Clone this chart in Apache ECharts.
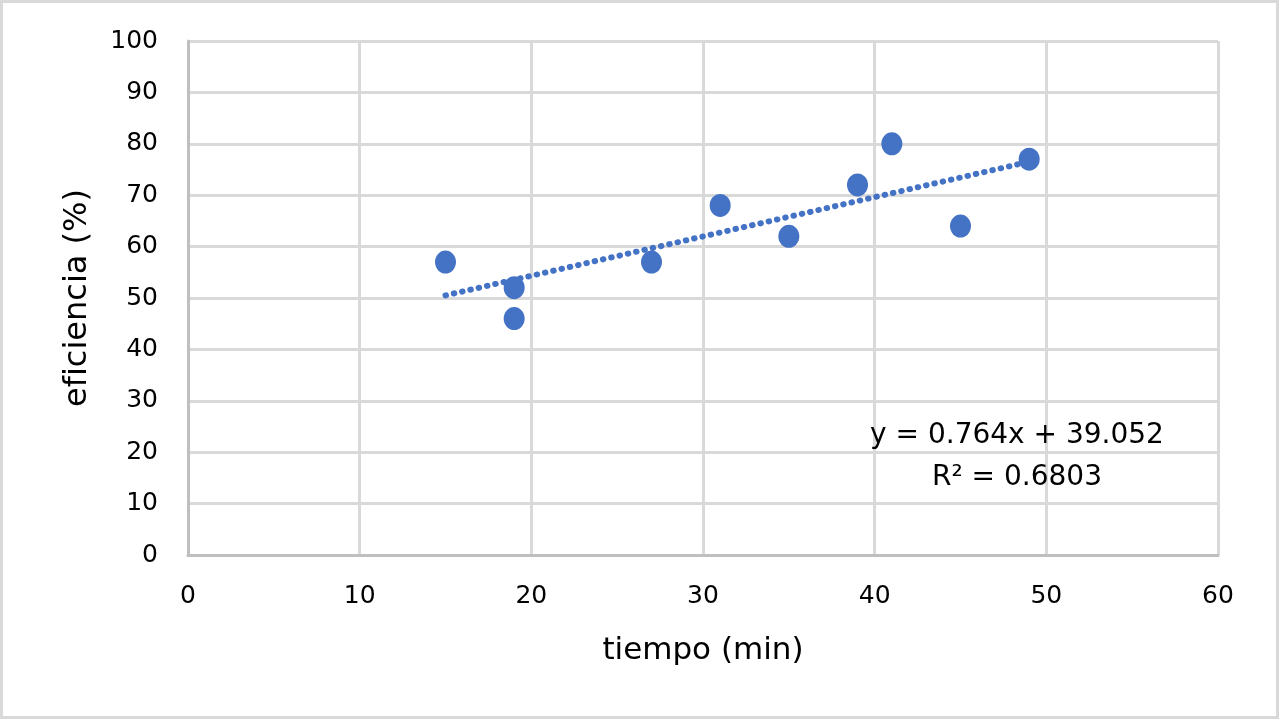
<!DOCTYPE html>
<html lang="es">
<head>
    <meta charset="UTF-8">
    <title>eficiencia vs tiempo</title>
    <script type="text/javascript" src="https://cdn.jsdelivr.net/npm/echarts@6/dist/echarts.min.js"></script>
    <style>
        html, body { margin: 0; padding: 0; background: #fff; }
        #main { width: 1280px; height: 720px; }
    </style>
</head>
<body>
<div id="main"></div>
<script type="text/javascript">
    // datos
    var tiempo = [15, 19, 19, 27, 31, 35, 39, 41, 45, 49];
    var eficiencia = [57, 52, 46, 57, 68, 62, 72, 80, 64, 77];
    // extremos de la linea de tendencia (leidos)
    var tendencia = [[15, 50.5], [49, 76.5]];
    var ecuacion = 'y = 0.764x + 39.052';
    var r2 = 'R² = 0.6803';

    var puntos = [];
    for (var i = 0; i < tiempo.length; i++) {
        puntos.push([tiempo[i], eficiencia[i]]);
    }

    var fuente = 'DejaVu Sans, Verdana, sans-serif';
    var azul = '#4472C4';

    var myChart = echarts.init(document.getElementById('main'));
    myChart.setOption({
        animation: false,
        grid: {left: 188, right: 62, top: 41, bottom: 165},
        xAxis: {
            type: 'value',
            min: 0, max: 60, interval: 10,
            name: 'tiempo (min)',
            nameLocation: 'middle',
            nameGap: 80,
            nameTextStyle: {fontFamily: fuente, fontSize: 31, color: '#000'},
            axisLine: {lineStyle: {color: '#bfbfbf', width: 3}},
            axisTick: {show: false},
            axisLabel: {fontFamily: fuente, fontSize: 25, color: '#000', margin: 29},
            splitLine: {lineStyle: {color: '#d9d9d9', width: 3}}
        },
        yAxis: {
            type: 'value',
            min: 0, max: 100, interval: 10,
            name: 'eficiencia (%)',
            nameLocation: 'middle',
            nameGap: 94,
            nameTextStyle: {fontFamily: fuente, fontSize: 32, color: '#000'},
            axisLine: {show: true, lineStyle: {color: '#bfbfbf', width: 3}},
            axisTick: {show: false},
            axisLabel: {fontFamily: fuente, fontSize: 25, color: '#000', margin: 30},
            splitLine: {lineStyle: {color: '#d9d9d9', width: 3}}
        },
        series: [{
            name: 'tendencia',
            type: 'line',
            data: tendencia,
            symbol: 'none',
            lineStyle: {color: azul, width: 6, type: [0.5, 8], cap: 'round'},
            z: 2
        }, {
            name: 'eficiencia',
            type: 'scatter',
            data: puntos,
            symbolSize: [21, 23],
            itemStyle: {color: azul, opacity: 1},
            z: 3
        }],
        graphic: [{
            type: 'rect',
            shape: {x: 1.5, y: 1.5, width: 1276, height: 716},
            style: {fill: 'none', stroke: '#d9d9d9', lineWidth: 3},
            silent: true
        }, {
            type: 'text',
            x: 1017, y: 436,
            style: {text: ecuacion, fontFamily: fuente, fontSize: 28, fill: '#000', align: 'center', verticalAlign: 'middle'},
            z: 10
        }, {
            type: 'text',
            x: 1017, y: 478,
            style: {text: r2, fontFamily: fuente, fontSize: 28, fill: '#000', align: 'center', verticalAlign: 'middle'},
            z: 10
        }]
    });
</script>
</body>
</html>
